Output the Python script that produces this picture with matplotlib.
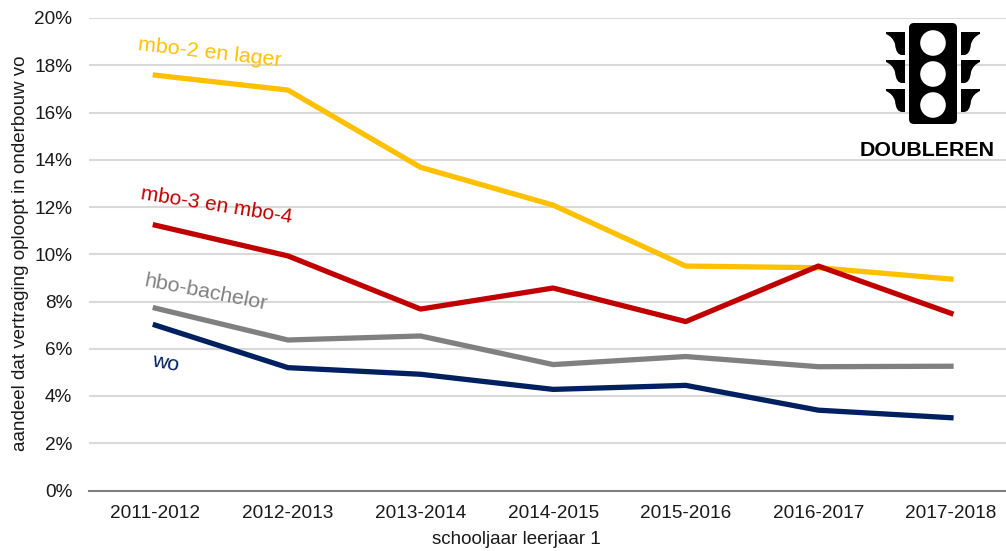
import matplotlib
matplotlib.use('Agg')
from matplotlib import pyplot as plt
from matplotlib.patches import Circle, FancyBboxPatch, PathPatch
from matplotlib.path import Path

plt.rcParams['font.family'] = ['Liberation Sans', 'DejaVu Sans']

years = ['2011-2012', '2012-2013', '2013-2014', '2014-2015', '2015-2016', '2016-2017', '2017-2018']
mbo2 = [17.58, 16.95, 13.68, 12.08, 9.5, 9.43, 8.95]
mbo34 = [11.23, 9.93, 7.68, 8.57, 7.15, 9.5, 7.5]
hbo = [7.72, 6.37, 6.54, 5.33, 5.67, 5.24, 5.26]
wo = [7.0, 5.2, 4.92, 4.28, 4.45, 3.4, 3.08]
yticks = [0, 2, 4, 6, 8, 10, 12, 14, 16, 18, 20]

W, H = 1006, 551
fig = plt.figure(figsize=(W / 100, H / 100), dpi=100)
# axes run off the right edge, like the cropped original
ax = fig.add_axes([89 / W, 1 - 490.5 / H, (W - 89) / W, (490.5 - 18) / H])

ax.plot(years, mbo2, color='#FFC000', lw=3.8, solid_joinstyle='round')
ax.plot(years, mbo34, color='#C00000', lw=3.8, solid_joinstyle='round')
ax.plot(years, hbo, color='#808080', lw=3.8, solid_joinstyle='round')
ax.plot(years, wo, color='#002060', lw=3.8, solid_joinstyle='round')

ax.set_xlim(-0.5, 6.415)
ax.set_ylim(0, 20)
ax.set_yticks(yticks)
ax.set_yticklabels([str(t) + '%' for t in yticks])
ax.grid(axis='y', color='#D9D9D9', lw=1.5)
ax.set_axisbelow(True)
for s in ['top', 'right', 'left']:
    ax.spines[s].set_visible(False)
ax.spines['bottom'].set_color('#808080')
ax.spines['bottom'].set_linewidth(1.5)
ax.tick_params(axis='both', length=0, labelsize=13.7, labelcolor='#1a1a1a')
ax.tick_params(axis='x', pad=10.5)
ax.tick_params(axis='y', pad=12)

# overlay in pixel coordinates for labels and the icon
ov = fig.add_axes([0, 0, 1, 1])
ov.set_xlim(0, W)
ov.set_ylim(H, 0)
ov.axis('off')
ov.patch.set_alpha(0)

ov.text(516, 540, 'schooljaar leerjaar 1', fontsize=13.5, ha='center', va='center', color='#1a1a1a')
ov.text(21, 253, 'aandeel dat vertraging oploopt in onderbouw vo', fontsize=13.5, rotation=90,
        ha='center', va='center', color='#1a1a1a')

ov.text(210, 53, 'mbo-2 en lager', fontsize=15.4, color='#FFC000', rotation=-6.5,
        ha='center', va='center', rotation_mode='anchor')
ov.text(216, 206, 'mbo-3 en mbo-4', fontsize=15, color='#C00000', rotation=-9,
        ha='center', va='center', rotation_mode='anchor')
ov.text(206, 293, 'hbo-bachelor', fontsize=15.4, color='#808080', rotation=-11,
        ha='center', va='center', rotation_mode='anchor')
ov.text(165, 363, 'wo', fontsize=15.4, color='#002060', rotation=-11,
        ha='center', va='center', rotation_mode='anchor')

# traffic light icon
ov.add_patch(FancyBboxPatch((912, 26), 42, 95, boxstyle='round,pad=3,rounding_size=5', fc='black', ec='none'))
for cy in [43, 74, 105]:
    ov.add_patch(Circle((933, cy), 12.8, fc='white', ec='none'))
wing = [(0, 0), (19, 0), (19, 2), (12, 5), (10, 12), (9, 23), (3, 23), (0, 23), (0, 0)]
codes = [Path.MOVETO, Path.LINETO, Path.LINETO, Path.CURVE3, Path.CURVE3,
         Path.CURVE3, Path.CURVE3, Path.LINETO, Path.CLOSEPOLY]
for top in [32, 60, 89]:
    for sign in [-1, 1]:
        verts = [(933 + sign * (28 + d), top + h) for d, h in wing]
        ov.add_patch(PathPatch(Path(verts, codes), fc='black', ec='none'))
ov.text(927, 151, 'DOUBLEREN', fontsize=15.4, fontweight='bold', ha='center', va='center', color='black')

fig.savefig('out.png', dpi=100)
